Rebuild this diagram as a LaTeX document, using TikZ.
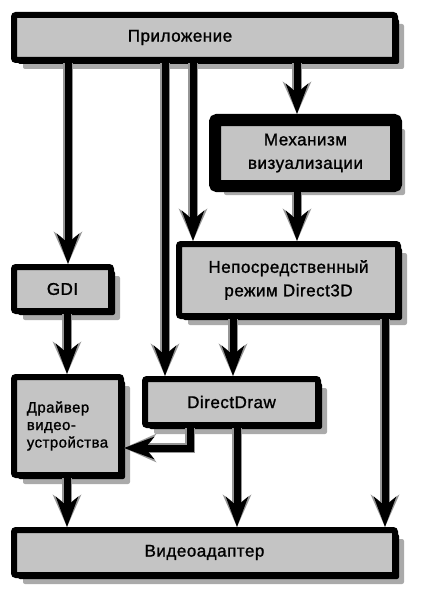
\documentclass[tikz,border=0pt]{standalone}
\usepackage{fontspec}
\setmainfont{Liberation Sans}[LetterSpace=3,FakeBold=1.2]
\usetikzlibrary{arrows.meta,shadows}
\definecolor{boxfill}{RGB}{196,196,196}
\definecolor{shade}{RGB}{170,170,170}
\definecolor{halo}{RGB}{150,150,150}
\begin{document}
\begin{tikzpicture}[x=1pt,y=-1pt,
  blk/.style={rectangle, draw=black, line width=6pt, fill=boxfill, rounded corners=2pt,
    inner sep=0pt, align=center, font=\fontsize{17}{23.5}\selectfont,
    general shadow={shadow xshift=9pt, shadow yshift=-9pt, fill=shade},
    general shadow={shadow xshift=4pt, shadow yshift=-4pt, fill=black}},
  arr/.style={line width=7pt, draw=black, -{Stealth[length=30pt,width=22pt,inset=9pt]},
    preaction={draw=halo, line width=10pt, -{Stealth[length=32pt,width=28pt,inset=10pt]}}}]
\useasboundingbox (0,0) rectangle (424,607);

\node[blk, minimum width=381pt, minimum height=45pt] (app) at (204.5,37.5) {\hspace*{-49pt}Приложение};
\node[blk, line width=12pt, minimum width=181pt, minimum height=66pt] (mech) at (305.5,153) {Механизм\\визуализации};
\node[blk, minimum width=219pt, minimum height=72pt] (d3d) at (288.5,280) {Непосредственный\\режим Direct3D};
\node[blk, minimum width=97pt, minimum height=44pt] (gdi) at (62.5,289) {GDI};
\node[blk, minimum width=107pt, minimum height=98pt, align=left, font=\fontsize{15}{17.5}\selectfont] (drv) at (67.5,426) {Драйвер\\видео-\\устройства};
\node[blk, minimum width=173pt, minimum height=46pt] (dd) at (231.5,402) {DirectDraw};
\node[blk, minimum width=381pt, minimum height=45pt] (vid) at (204.5,552.5) {Видеоадаптер};

\draw[arr] ([xshift=5.5pt]gdi.north |- app.south) -- ([xshift=5.5pt]gdi.north);
\draw[arr] ([xshift=-66.5pt]dd.north |- app.south) -- ([xshift=-66.5pt]dd.north);
\draw[arr] ([xshift=-95.5pt]d3d.north |- app.south) -- ([xshift=-95.5pt]d3d.north);
\draw[arr] ([xshift=-8.5pt]mech.north |- app.south) -- ([xshift=-8.5pt]mech.north);
\draw[arr] ([xshift=-8.5pt]mech.south) -- ([xshift=-8.5pt]mech.south |- d3d.north);
\draw[arr] ([xshift=1.5pt]dd.north |- d3d.south) -- ([xshift=1.5pt]dd.north);
\draw[arr] ([xshift=4.5pt]gdi.south) -- ([xshift=4.5pt]gdi.south |- drv.north);
\draw[arr] ([xshift=96.5pt]d3d.south) -- ([xshift=96.5pt]d3d.south |- vid.north);
\draw[arr] ([xshift=-0.5pt]drv.south) -- ([xshift=-0.5pt]drv.south |- vid.north);
\draw[arr] ([xshift=5.5pt]dd.south) -- ([xshift=5.5pt]dd.south |- vid.north);
\draw[arr] ([xshift=-41.5pt]dd.south) |- ([yshift=-22pt]drv.east);
\end{tikzpicture}
\end{document}
